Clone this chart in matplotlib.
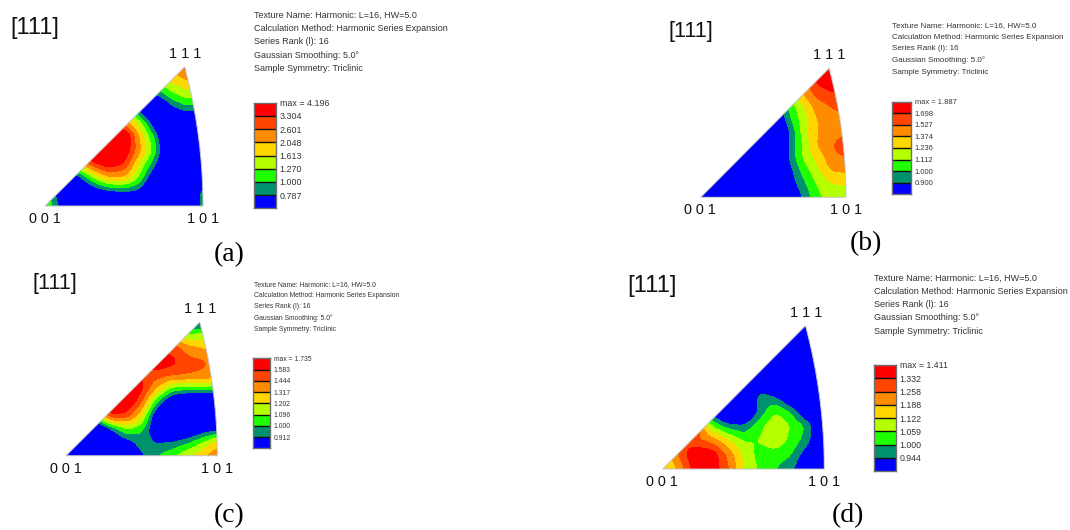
import numpy as np
import matplotlib
matplotlib.use("Agg")
import matplotlib.pyplot as plt
from matplotlib.patches import Polygon

plt.rcParams['font.family'] = ['Liberation Sans', 'DejaVu Sans']

# colour bands, lowest to highest
band_colors = ['#0000FF', '#00916E', '#1EFF00', '#B4FF00', '#FFD700', '#FF8C00', '#FF4500', '#FF0000']
info_lines = ['Texture Name: Harmonic: L=16, HW=5.0',
              'Calculation Method: Harmonic Series Expansion',
              'Series Rank (l): 16',
              'Gaussian Smoothing: 5.0\u00b0',
              'Sample Symmetry: Triclinic']

# legend labels, top to bottom
labels_a = ['max = 4.196', '3.304', '2.601', '2.048', '1.613', '1.270', '1.000', '0.787']
labels_b = ['max = 1.887', '1.698', '1.527', '1.374', '1.236', '1.112', '1.000', '0.900']
labels_c = ['max = 1.735', '1.583', '1.444', '1.317', '1.202', '1.096', '1.000', '0.912']
labels_d = ['max = 1.411', '1.332', '1.258', '1.188', '1.122', '1.059', '1.000', '0.944']

# texture, as position on the legend (1 = lowest level, 7 = highest)
# rows go from the 111 corner (top) down to the 001-101 edge, columns from 001 to 101
grid_a = [[0, 0, 0, 0, 0, 0, 0, 1, 5, 6.5, 6.5],
          [0, 0, 0, 0, 0, 0, 0, 3, 4.2, 4.9, 4.5],
          [0, 0, 0, 0, 0, 0, -2, 1, 2.6, 3.5, 3],
          [0, 0, 0, 0, 3, 4, 0, -3, .5, 1.6, 1],
          [0, 0, 0, 3, 6, 5.5, 3.4, -.3, -3, -1.5, -2],
          [0, 0, 5, 9, 10, 8.6, 4.8, 1.7, -3, -3, -3],
          [0, 3, 7, 9, 9.5, 8, 5.2, 2.2, -2, -3, -3],
          [0, 1, 4, 6.5, 7.7, 6.9, 3.7, 1.1, -3, -3, -3],
          [0, 1, 0, 2.7, 4.7, 4.7, 2.7, -.8, -3, -3, -1],
          [2.4, 0, -2, -.4, .5, .9, .5, -3, -3, -3, 1.8],
          [3.2, .6, -2, -3, -3, -3, -3, -3, -3, -3, 2]]
grid_b = [[3, 3, 3, 3, 3, 3, 4, 5.5, 7.5, 8, 8],
          [3, 3, 3, 3, 3, 3, 4, 5.5, 7.2, 7.8, 8],
          [2, 2, 2, 2, 2, 1, 3, 4.9, 6.3, 6.8, 7],
          [-1, -1, -1, -1, -1, 0, 2, 3.8, 5.4, 6, 6.5],
          [-3, -3, -3, -3, -3, -1.5, 1.5, 3.4, 5, 5.5, 5.5],
          [-3, -3, -3, -3, -3, -3, .6, 3.3, 5, 5.5, 5.7],
          [-3, -3, -3, -3, -3, -3, .9, 3, 5, 5.8, 7],
          [-3, -3, -3, -3, -3, -3, .8, 3, 4.2, 5.6, 5.8],
          [-3, -3, -3, -3, -3, -3, .3, 2.2, 3.6, 5, 5.1],
          [-3, -3, -3, -3, -3, -3, 0, 1.6, 3, 3.9, 4],
          [-3, -3, -3, -3, -3, -3, -1, 1, 2.7, 3.4, 3.6]]
grid_c = [[3, 3, 3, 3, 3, 3, 3, 3, .5, .5, .5],
          [3, 3, 3, 3, 3, 3, 5, 5, 3.2, 3.5, 3],
          [5, 5, 5, 5, 5, 5, 6.8, 6.7, 5.6, 5, 5],
          [7, 7, 7, 7, 7, 7, 7.8, 7.3, 6.4, 6.2, 5.6],
          [7, 7, 7, 7, 7, 7, 6.4, 6, 5.9, 5.8, 5.4],
          [5, 5, 5, 7, 9, 7.2, 4.8, 2.5, 2.2, 2.3, 2.2],
          [3, 3, 6, 9, 8.3, 6, 2, -1, -2, -2, -2],
          [-1, -1, 3, 6.8, 6.5, 4.2, -.5, -3, -3, -3, -3],
          [-3, -3, -1.5, 1, 3, 2.2, -.5, -2.5, -1, 0, .5],
          [-3, -3, -3, -1, .3, 1.6, .9, 1.1, 1.7, 2.9, 4.4],
          [-3, -3, -3, -2, -1, .8, 1.9, 2.7, 3.8, 4.7, 5.8]]
grid_d = [[-3, -3, -3, -3, -3, -3, -3, -3, -3, -3, -3],
          [-3, -3, -3, -3, -3, -3, -3, -3, -3, -3, -3],
          [-3, -3, -3, -3, -3, -3, -3, -3, -3, -3, -3],
          [-3, -3, -3, -3, -3, -3, -3, -3, -3, -3, -3],
          [-3, -3, -3, -3, -3, -3, -1, -2, -3, -3, -3],
          [-3, -3, -3, -3, -3, -3, 1.8, 1.1, -1, -3, -3],
          [3, 3, 3, .5, -2, -1.5, 1.3, 3, 1.8, -.8, -3],
          [7, 7, 7, 3, 1.5, 1.1, 2.7, 3.8, 2.9, 1.7, -2],
          [5, 7, 6.2, 5.6, 4.2, 2.9, 3.05, 3.7, 2.6, 1.4, -2],
          [4, 6, 8, 7.8, 5.8, 3.7, 2.6, 2.5, 2, 0, -2],
          [3.5, 5.2, 7.5, 7.8, 6.2, 4, 2.8, 2, 1.2, -1, -2]]

W, H = 1070, 530
fig = plt.figure(figsize=(W / 100, H / 100), dpi=100, facecolor='white')


def px_axes(x0, y0, x1, y1):
    # axes from pixel box, y counted from the top of the picture
    return fig.add_axes([x0 / W, 1 - y1 / H, (x1 - x0) / W, (y1 - y0) / H])


def put(x, y, s, **kw):
    fig.text(x / W, 1 - y / H, s, va='center', **kw)


def triangle_outline():
    # stereographic 001-101-111 triangle scaled to the unit box
    t = np.linspace(1, 0, 40)
    yy = t * (np.sqrt(3) - 1) / 2
    xx = (np.sqrt(2 - yy ** 2) - 1) / (np.sqrt(2) - 1)
    return np.vstack([[0, 0], np.column_stack([xx, t])])


def soften(grid, u, v, uf, vf):
    # bilinear onto a finer mesh, then a short box filter so the bands are not jagged
    z = np.array(grid, dtype=float)[::-1]
    rows = np.array([np.interp(uf, u, r) for r in z])
    fine = np.array([np.interp(vf, v, c) for c in rows.T]).T
    k = np.ones(7) / 7
    pad = np.pad(fine, 3, mode='edge')
    pad = np.apply_along_axis(lambda r: np.convolve(r, k, mode='same'), 0, pad)
    pad = np.apply_along_axis(lambda r: np.convolve(r, k, mode='same'), 1, pad)
    return pad[3:-3, 3:-3]


def draw_panel(grid, labels, tri, bar, info, info_size, legend_size, bracket, bracket_size, letter, letter_pos):
    x0, x1, y_top, y_bot = tri
    ax = px_axes(x0, y_top, x1, y_bot)
    u = np.linspace(0, 1, 11)
    v = np.linspace(0, 1, 11)
    uf = np.linspace(0, 1, 121)
    vf = np.linspace(0, 1, 121)
    cs = ax.contourf(uf, vf, soften(grid, u, v, uf, vf), levels=[-100, 1, 2, 3, 4, 5, 6, 7, 100], colors=band_colors)
    patch = Polygon(triangle_outline(), closed=True, facecolor='none', edgecolor='#c4c4c4',
                    linewidth=0.7, transform=ax.transData, clip_on=False)
    ax.add_patch(patch)
    cs.set_clip_path(patch)
    ax.set_xlim(0, 1)
    ax.set_ylim(0, 1)
    ax.axis('off')

    # corner labels
    w = x1 - x0
    put(x0 + 0.884 * w + 0.5, y_top - 13, '1 1 1', fontsize=10.4, ha='center', color='#111111')
    put(x0 - 0.5, y_bot + 13, '0 0 1', fontsize=10.4, ha='center', color='#111111')
    put(x1 + 0, y_bot + 13, '1 0 1', fontsize=10.4, ha='center', color='#111111')

    # legend
    bx0, bx1, by0, by1 = bar
    cax = px_axes(bx0, by0, bx1, by1)
    n = len(labels)
    pos = np.arange(n)
    cax.bar(np.zeros(n), np.ones(n), width=1, bottom=pos, color=band_colors, linewidth=0)
    cax.hlines(pos[1:], -0.5, 0.5, color='#111111', linewidth=1.0)
    cax.set_xlim(-0.5, 0.5)
    cax.set_ylim(0, n)
    cax.set_xticks([])
    cax.yaxis.tick_right()
    cax.set_yticks(pos[1:].tolist() + [n])
    cax.set_yticklabels(labels[1:][::-1] + [labels[0]], fontsize=legend_size, color='#333333')
    cax.tick_params(axis='y', length=0, pad=2.6)
    for s in cax.spines.values():
        s.set_color('#707070')
        s.set_linewidth(1.0)

    # info block
    ix, iy, step = info
    for i, line in enumerate(info_lines):
        put(ix, iy + i * step, line, fontsize=info_size, ha='left', color='#333333')

    put(bracket[0], bracket[1], '[111]', fontsize=bracket_size, ha='left', color='#111111')
    put(letter_pos[0], letter_pos[1], letter, fontsize=20, ha='center',
        family='Liberation Serif', color='black')


draw_panel(grid_a, labels_a, (45, 203, 67, 206), (254.3, 276, 102.7, 208.3), (254, 15.5, 13.2), 6.5, 6.4,
           (10, 28), 17, '(a)', (229.5, 255))
draw_panel(grid_b, labels_b, (700.7, 846, 68.3, 197.3), (891.7, 911, 101.7, 194.3), (891.5, 25.5, 11.7), 5.75, 5.4,
           (668, 32), 15.7, '(b)', (865.7, 244))
draw_panel(grid_c, labels_c, (66, 217.3, 322.3, 455.7), (253.3, 270, 358.3, 448.3), (253.5, 284.3, 11.25), 4.85, 4.85,
           (33, 284), 15.7, '(c)', (229.5, 516))
draw_panel(grid_d, labels_d, (662.7, 824.3, 325.7, 469), (874.3, 896, 365, 471), (874.5, 278.3, 13.2), 6.45, 6.35,
           (627, 286), 17.2, '(d)', (848, 516))

fig.savefig('out.png', dpi=100, facecolor='white')
